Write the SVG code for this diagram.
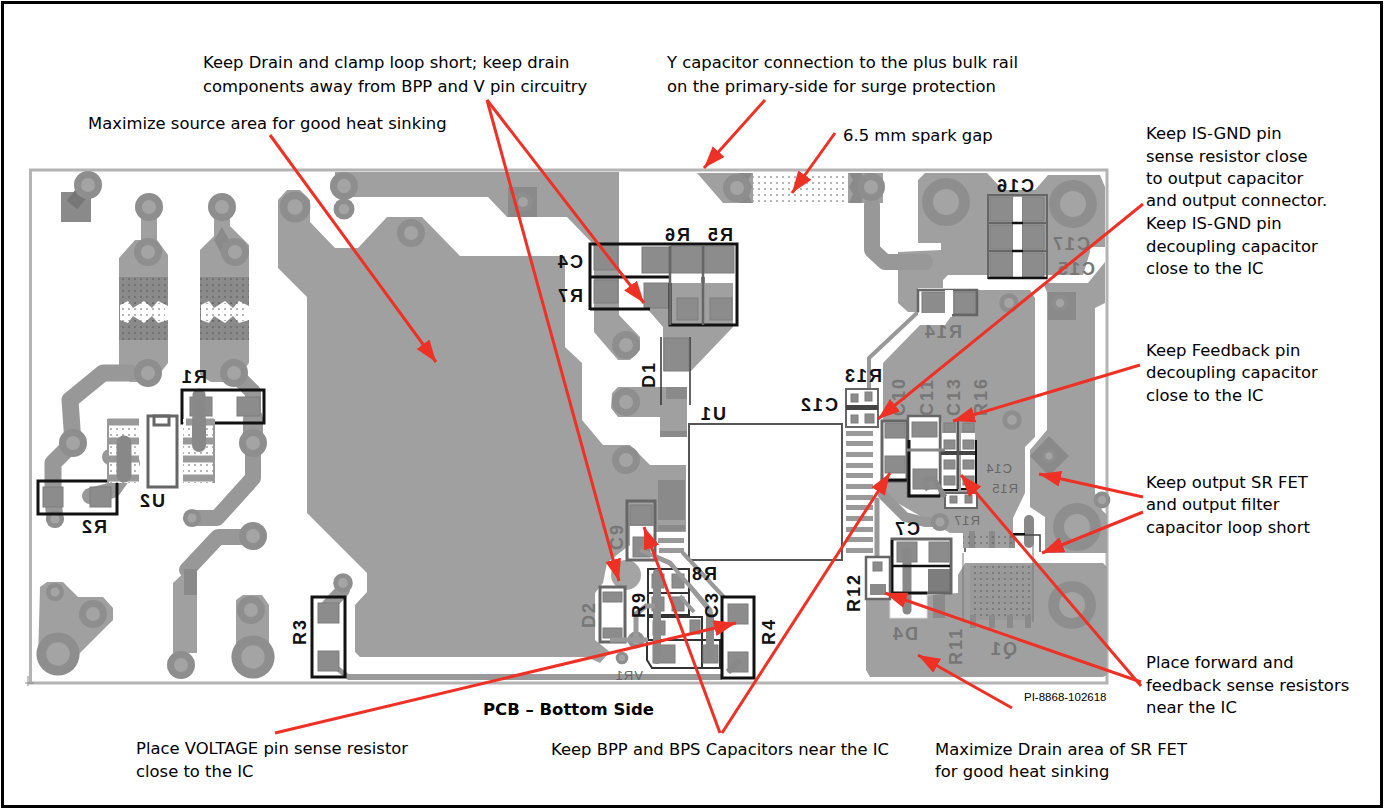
<svg xmlns="http://www.w3.org/2000/svg" width="1384" height="809" viewBox="0 0 1384 809">
<style>
.cu{fill:#a0a0a0}
.dk{fill:#8a8a8a}
.pad{fill:#8c8c8c;stroke:#7d7d7d;stroke-width:1}
.tr{fill:none;stroke:#989898;stroke-linecap:round;stroke-linejoin:round}
.ring{fill:#8e8e8e}
.hole{fill:#a4a4a4}
.wh{fill:#fff}
.box{fill:none;stroke:#111;stroke-width:3}
.gbox{fill:none;stroke:#666;stroke-width:3}
.sil{font-family:"Liberation Sans",Arial,sans-serif;font-weight:700;font-size:18px;letter-spacing:2px;fill:#111}
.sg{fill:#777}
.sm{font-size:13px;font-weight:400;letter-spacing:1px;fill:#666}
.note{font-family:"DejaVu Sans",sans-serif;font-size:16.400px;fill:#000}
.arr{fill:none;stroke:#ef3024;stroke-width:3;marker-end:url(#ah)}
</style>
<defs>
<marker id="ah" markerUnits="userSpaceOnUse" markerWidth="24" markerHeight="18" refX="22" refY="8" orient="auto">
<path d="M0,0 L22,8 L0,16 Z" fill="#ef3024"/>
</marker>
<pattern id="dots" width="6" height="6" patternUnits="userSpaceOnUse">
<circle cx="3" cy="3" r="0.8" fill="#555"/>
</pattern>
<g id="v"><circle r="14" class="ring"/><circle r="7" class="hole"/></g>
<g id="vb"><circle r="24" class="ring"/><circle r="13" class="hole"/></g>
</defs>
<rect width="1384" height="809" fill="#fff"/>
<rect x="2.5" y="2.5" width="1379" height="804" fill="none" stroke="#000" stroke-width="3"/>
<g id="board">
<rect x="30.5" y="170" width="1076.500" height="513" fill="#fff" stroke="#b4b4b4" stroke-width="3"/>
<path d="M28 676V686M25 683H34" stroke="#888" stroke-width="1" fill="none"/>
<g id="copper">
<path class="cu" d="M278,200 287,190 300,190 310,200 310,222 335,248 358,248 387,217 422,217 460,256 565,256 565,347 582,363 582,420 603,445 630,445 650,465 686,465 686,532 655,532 627,547 607,563 603,583 595,593 595,640 610,652 600,663 587,657 360,657 355,652 355,605 367,592 367,573 307,513 307,297 278,268Z"/>
<path class="cu" d="M335,172H619V315L640,337V350L630,360H618L594,332V245L567,217H507L488,197H353L335,190Z"/>
<rect class="dk" x="508" y="187" width="29" height="30"/>
<rect x="348" y="674" width="374" height="6" fill="#999"/>
<path class="cu" d="M697,173H753V203H723Z"/>
<path class="cu" d="M848,173H883V203H848Z"/>
<path d="M753,173H848V203H753Z" fill="url(#dots)"/>
<path class="dk" d="M739,173H752L748,180 752,187 748,194 752,203H739Z"/>
<path class="dk" d="M862,173H849L853,180 849,187 853,194 849,203H862Z"/>
<path class="cu" d="M918,180 925,173H987L1003,190H1035L1048,175H1100L1105,187V247H1090V252L1083,275H948L943,280V288H918V312H908L898,303V252L941,250V243H918Z"/>
<path class="cu" d="M952,290H1030L1035,298V437L1025,447V493L1013,518V548H963V533H950L880,493 883,420V363L920,325H945L952,315Z"/>
<path class="cu" d="M1043,283H1088L1105,262V303L1095,308V493L1102,510 1107,515V553H1045V517L1030,507V450L1047,430V292Z"/>
<path class="cu" d="M965,563H1103L1107,567V675L1103,677H870L866,670V597H905L958,593 958,575Z"/>
<path class="dk" d="M1049,436 1069,456 1049,476 1030,456Z"/>
<rect class="dk" x="1048" y="292" width="28" height="28"/>
<rect x="970" y="565" width="63" height="55" fill="#999"/>
<rect x="970" y="565" width="63" height="55" fill="url(#dots)"/>
<path d="M1033,535V622M963,553V622" stroke="#777" fill="none"/>
<path class="cu" d="M612,393 618,387H687V437H660V417H618L611,408Z"/>
<rect class="dk" x="666" y="387" width="21" height="12"/>
<rect class="dk" x="660" y="431" width="27" height="6"/>
<path class="cu" d="M644,283H733V327L691,371H663V327L644,305Z"/>
<path class="dk" d="M658,480H685V520H658Z"/>
<rect class="dk" x="658" y="525" width="27" height="6"/>
</g>
<g id="fuses">
<path class="cu" d="M141,207H157V240L168,255V363L153,382H130L119,367V258L135,240H141Z"/>
<path class="cu" d="M214,207H230V226L249,245V363L234,382H211L200,375V250L214,236Z"/>
<rect class="dk" x="119" y="277" width="49" height="63"/><rect fill="url(#dots)" x="119" y="277" width="49" height="63"/>
<rect class="dk" x="200" y="277" width="49" height="63"/><rect fill="url(#dots)" x="200" y="277" width="49" height="63"/>
<path class="wh" d="M120,305 128,301 133,308 144,301 152,308 158,301 168,306V320L158,323 152,316 144,323 133,316 128,323 120,320Z"/>
<path class="wh" d="M201,305 209,301 214,308 225,301 233,308 239,301 249,306V320L239,323 233,316 225,323 214,316 209,323 201,320Z"/>
<rect fill="url(#dots)" x="122" y="303" width="43" height="18"/>
<rect fill="url(#dots)" x="203" y="303" width="43" height="18"/>
<path class="dk" d="M222,227 232,245 222,255 214,240Z"/>
</g>
<g id="traces">
<path class="tr" stroke-width="17" d="M130,373H103L70,400 73,443 53,463V500L55,519"/>
<path class="tr" stroke-width="16" d="M234,373 253,392V478L217,518H192"/>
<path class="tr" stroke-width="20" d="M253,443V418"/>
<path class="tr" stroke-width="16" d="M252,537H218L187,570"/>
<path class="cu" d="M173,583 187,570 197,575V653H173Z"/>
<path class="dk" d="M184,569H197V595H184Z"/>
<path class="tr" stroke-width="14" d="M343,590 328,606"/>
<path class="tr" stroke-width="5" d="M332,664 348,677"/>
<path class="tr" stroke-width="16" d="M872,205V250L885,262H925"/>
<path class="tr" stroke-width="4" d="M869,390V358L917,313"/>
<path class="tr" stroke-width="16" d="M110,457H120L132,463 113,490 90,496"/>
<path class="tr" stroke-width="10" d="M883,495 905,517 925,522H940"/>
<path class="tr" stroke-width="5" d="M640,550 670,563 693,590 710,610"/>
<path class="tr" stroke-width="4" d="M683,553 733,607"/>
<path class="tr" stroke-width="5" d="M877,500V565"/>
</g>
<g id="terminals">
<path class="dk" d="M61,192H91V222H61Z"/>
<path d="M88,185 72,205" stroke="#777" stroke-width="14" fill="none"/>
<use href="#v" x="88" y="185"/>
<use href="#v" x="149" y="207"/><use href="#v" x="222" y="207"/>
<use href="#v" x="148" y="252"/><use href="#v" x="235" y="252"/>
<use href="#v" x="148" y="373"/><use href="#v" x="234" y="373"/>
<use href="#v" x="73" y="443"/><use href="#v" x="253" y="443"/>
<use href="#v" x="344" y="186"/><use href="#v" transform="translate(344 209) scale(.75)"/>
<use href="#v" transform="translate(295 207) scale(1.1)"/>
<use href="#v" x="411" y="233"/><use href="#v" transform="translate(523 202) scale(.7)"/>
<use href="#v" x="626" y="345"/><use href="#v" x="626" y="402"/><use href="#v" x="626" y="460"/>
<use href="#v" x="871" y="187"/>
<use href="#v" x="737" y="188"/>
<use href="#v" transform="translate(55 519) scale(.65)"/>
<use href="#v" transform="translate(192 518) scale(.65)"/>
<use href="#v" transform="translate(343 583) scale(.7)"/>
<use href="#v" transform="translate(1060 303) scale(.6)"/>
<use href="#v" transform="translate(1009 303) scale(.7)"/>
<use href="#v" transform="translate(1049 456) scale(.5)"/>
<use href="#v" transform="translate(1012 420) scale(.7)"/>
<use href="#v" transform="translate(1102 500) scale(.6)"/>
<use href="#v" transform="translate(940 522) scale(.65)"/>
<circle cx="626" cy="575" r="15" fill="#a4a4a4"/>
<use href="#v" transform="translate(636 640) scale(.6)"/>
<use href="#v" transform="translate(622 658) scale(.45)"/>
<path class="cu" d="M40,587 47,582H63L78,597H103L113,608V620L60,673H50L38,660Z"/>
<use href="#v" transform="translate(55 592) scale(.65)"/>
<use href="#v" x="93" y="614"/>
<use href="#vb" transform="translate(58 654) scale(.9)"/>
<path class="cu" d="M236,600 243,595H262L269,605V660H236Z"/>
<use href="#v" x="251" y="610"/>
<use href="#vb" transform="translate(253 657) scale(.9)"/>
<use href="#v" x="181" y="665"/>
<use href="#v" x="253" y="536"/>
<use href="#vb" x="946" y="202"/>
<use href="#vb" x="1073" y="204"/>
<use href="#vb" x="1077" y="527"/>
<use href="#vb" x="1072" y="605"/>
</g>
<g id="U1-part">
<rect x="689" y="424" width="153" height="136" fill="#fff" stroke="#555" stroke-width="2"/>
<g fill="#999">
<rect x="846" y="431" width="27" height="5"/><rect x="846" y="441" width="27" height="5"/><rect x="846" y="452" width="27" height="5"/><rect x="846" y="463" width="27" height="5"/><rect x="846" y="473" width="27" height="5"/><rect x="846" y="484" width="27" height="5"/><rect x="846" y="495" width="27" height="5"/><rect x="846" y="505" width="27" height="5"/><rect x="846" y="516" width="27" height="5"/><rect x="846" y="527" width="27" height="5"/><rect x="846" y="537" width="27" height="5"/><rect x="846" y="548" width="27" height="5"/>
<rect x="658" y="538" width="26" height="5"/><rect x="659" y="548" width="25" height="5"/>
</g>
</g>
<g id="D1">
<path d="M661,337V405M690,337V405" stroke="#333" stroke-width="1.500" fill="none"/>
<rect class="pad" x="664" y="338" width="25" height="33"/>
</g>
<g id="R5R6C4R7">
<rect class="pad" x="594" y="245" width="24" height="25"/><rect class="pad" x="594" y="280" width="24" height="23"/>
<rect class="pad" x="642" y="247" width="27" height="26"/><rect class="pad" x="644" y="283" width="25" height="25"/>
<rect class="pad" x="671" y="246" width="32" height="27"/><rect class="pad" x="704" y="246" width="30" height="27"/>
<rect class="pad" x="677" y="298" width="21" height="22"/><rect class="pad" x="710" y="298" width="22" height="22"/>
<path class="box" d="M618,244H737V325H670V283M590,310V244H618M590,277H670M590,309H650M703,277V283"/>
<path d="M670,246V325M703,246V325" stroke="#666" stroke-width="2.500" fill="none"/>
</g>
<g id="R1R2U2">
<rect class="pad" x="43" y="487" width="20" height="20"/><rect class="pad" x="90" y="487" width="21" height="20"/>
<rect class="pad" x="190" y="397" width="22" height="19"/><rect class="pad" x="237" y="397" width="23" height="19"/>
<path d="M199,395V445" stroke="#888" stroke-width="13" stroke-linecap="round"/>
<rect class="box" x="38" y="481" width="79" height="33"/>
<rect class="box" x="182" y="390" width="82" height="33"/>
<rect x="108" y="419" width="31" height="64" fill="#fff"/><rect x="183" y="419" width="31" height="64" fill="#fff"/>
<rect fill="url(#dots)" x="108" y="419" width="31" height="64"/><rect fill="url(#dots)" x="183" y="419" width="31" height="64"/>
<path d="M108,422H139M108,441H139M108,459H139M108,478H139M186,422H214M183,441H214M183,459H214M183,478H214" stroke="#999" stroke-width="7" fill="none"/>
<path d="M108,419V483M214,419V483" stroke="#999" stroke-width="2" fill="none"/>
<path d="M124,443V475" stroke="#888" stroke-width="15" stroke-linecap="round"/>
<path d="M199,420V445" stroke="#888" stroke-width="14" stroke-linecap="round"/>
<rect class="gbox" x="148" y="416" width="29" height="71" stroke-width="2"/>
<rect class="gbox" x="154" y="416" width="15" height="9" stroke-width="2"/>
<rect class="box" x="312" y="597" width="33" height="80"/>
<rect class="pad" x="318" y="603" width="21" height="20"/><rect class="pad" x="318" y="651" width="21" height="20"/>
</g>
<g id="C16-block">
<rect class="pad" x="990" y="197" width="23" height="24"/><rect class="pad" x="1022" y="197" width="22" height="24"/>
<rect class="pad" x="990" y="225" width="23" height="24"/><rect class="pad" x="1022" y="225" width="22" height="24"/>
<rect class="pad" x="990" y="253" width="23" height="24"/><rect class="pad" x="1022" y="253" width="22" height="24"/>
<rect x="1013" y="197" width="9" height="80" fill="#fff"/>
<path d="M988,195H1047V278H988ZM988,223H1047M988,251H1047" fill="none" stroke="#666" stroke-width="2"/>
<path d="M1012,223H1023M1012,251H1023M988,278H1047" stroke="#111" stroke-width="2.500" fill="none"/>
<rect x="922" y="292" width="24" height="24" class="pad"/><rect x="954" y="292" width="22" height="22" class="pad"/>
<path d="M918,312V290H945M945,315H918M952,315H977V290H945" fill="none" stroke="#666" stroke-width="2.500"/>
<rect x="918" y="313" width="34" height="4" fill="#fff"/>
<rect x="945" y="290" width="8" height="24" fill="#fff"/>
</g>
<g id="C12R13C10C11C13R16">
<rect x="846" y="389" width="32" height="38" fill="#fff" stroke="#666" stroke-width="2"/>
<rect x="846" y="405" width="32" height="5" fill="#444"/>
<rect class="pad" x="851" y="394" width="7" height="8"/><rect class="pad" x="865" y="392" width="7" height="9"/>
<rect class="pad" x="851" y="415" width="7" height="8"/><rect class="pad" x="865" y="414" width="9" height="9"/>
<rect x="883" y="421" width="24" height="60" fill="#fff"/>
<rect class="pad" x="885" y="423" width="20" height="15"/><rect class="pad" x="885" y="456" width="20" height="17"/>
<rect class="gbox" x="882" y="421" width="25" height="60" stroke-width="2"/>
<path d="M883,480H907" stroke="#111" stroke-width="3"/>
<rect x="909" y="416" width="31" height="80" fill="#fff"/>
<rect class="pad" x="912" y="422" width="25" height="15"/><rect class="pad" x="913" y="469" width="24" height="20"/>
<path d="M908,416H940V496H908Z" fill="none" stroke="#666" stroke-width="2.500"/>
<path d="M909,440V496H940" fill="none" stroke="#111" stroke-width="3"/>
<rect x="941" y="421" width="36" height="68" fill="#a0a0a0"/>
<rect x="942" y="433" width="14" height="56" fill="#fff"/><rect x="961" y="433" width="14" height="56" fill="#fff"/>
<rect class="pad" x="944" y="423" width="11" height="9"/><rect class="pad" x="963" y="423" width="11" height="9"/>
<rect class="pad" x="944" y="440" width="11" height="9"/><rect class="pad" x="963" y="440" width="11" height="9"/>
<rect class="pad" x="944" y="460" width="11" height="9"/><rect class="pad" x="963" y="460" width="11" height="9"/>
<rect class="pad" x="944" y="476" width="11" height="9"/><rect class="pad" x="963" y="476" width="11" height="9"/>
<path d="M941,453H977" stroke="#444" stroke-width="4"/>
<path d="M958,421V489" stroke="#555" stroke-width="2"/>
<path d="M961,489H976V440M942,490H958" fill="none" stroke="#111" stroke-width="2"/>
<rect x="945" y="493" width="32" height="15" fill="#fff" stroke="#666" stroke-width="2"/>
<rect class="pad" x="950" y="496" width="7" height="7"/><rect class="pad" x="965" y="495" width="7" height="8"/>
<path d="M907,450H945" stroke="#888" stroke-width="3"/>
<path d="M928,490 924,483Q926,477 934,479L945,497" fill="none" stroke="#888" stroke-width="5"/>
</g>
<g id="C7R12D4">
<rect x="892" y="540" width="60" height="53" fill="#fff"/>
<rect class="pad" x="929" y="542" width="20" height="20"/><rect x="928" y="569" width="22" height="23" fill="#7d7d7d"/>
<rect class="pad" x="897" y="542" width="20" height="20"/>
<rect x="890" y="594" width="37" height="24" fill="#fff" stroke="#ddd"/>
<rect class="dk" x="933" y="595" width="12" height="23"/>
<path d="M907,552V610" stroke="#888" stroke-width="9" stroke-linecap="round"/>
<rect class="gbox" x="892" y="539" width="59" height="54" stroke-width="2.500"/>
<path d="M893,566H950M893,593H927M892,540V594" stroke="#111" stroke-width="2.500" fill="none"/>
<rect x="866" y="557" width="24" height="42" fill="#fff" stroke="#666" stroke-width="2.500"/>
<rect class="dk" x="870" y="584" width="16" height="11"/>
<rect class="pad" x="873" y="562" width="9" height="9"/>
<path d="M1029,520V543" stroke="#888" stroke-width="10" stroke-linecap="round"/>
<path d="M972,531V548M992,531V548M1012,535V548M973,615V628M992,615V628M1010,615V628M1028,615V628" stroke="#8a8a8a" stroke-width="6" fill="none"/>
<rect x="963" y="535" width="50" height="13" fill="url(#dots)"/>
<path d="M965,548V552M1013,535H1040V552" stroke="#444" stroke-width="1.500" fill="none"/>
<path d="M1013,534H1025" stroke="#111" stroke-width="2"/>
</g>
<g id="bottom-cluster">
<rect x="630" y="526" width="25" height="34" fill="#fff"/>
<rect class="pad" x="630" y="505" width="22" height="20"/>
<rect class="pad" x="633" y="537" width="17" height="20"/>
<rect class="gbox" x="627" y="501" width="28" height="59" stroke-width="2"/>
<rect x="601" y="588" width="23" height="53" fill="#fff"/>
<rect class="gbox" x="600" y="587" width="25" height="55" stroke-width="2"/>
<rect class="pad" x="603" y="592" width="19" height="10"/><rect class="pad" x="603" y="628" width="19" height="10"/>
<path d="M648,569H689V593H648ZM648,593H689V615H648ZM648,617H702V640H648ZM647,640H720V668H652L647,660ZM702,617V668" fill="#fff" stroke="#333" stroke-width="2"/>
<rect class="pad" x="652" y="574" width="12" height="14"/><rect class="pad" x="672" y="574" width="12" height="14"/>
<rect class="pad" x="652" y="597" width="12" height="14"/><rect class="pad" x="672" y="597" width="12" height="14"/>
<rect class="pad" x="653" y="621" width="12" height="14"/><rect class="pad" x="690" y="620" width="10" height="14"/>
<rect class="pad" x="653" y="645" width="22" height="18"/><rect class="pad" x="703" y="645" width="15" height="18"/>
<path d="M657,573V660M710,617V657" stroke="#8a8a8a" stroke-width="8" stroke-linecap="round" fill="none"/>
<path d="M640,550 670,563 693,590 712,614M680,596 694,612M683,553 733,607" stroke="#999" stroke-width="4" fill="none"/>
<path d="M636,640V614L646,606H655" stroke="#999" stroke-width="5" fill="none"/>
<path d="M648,640H610" stroke="#999" stroke-width="5" fill="none"/>
<rect x="722" y="597" width="32" height="81" fill="#fff"/>
<rect class="pad" x="728" y="604" width="20" height="20"/><rect class="pad" x="728" y="652" width="20" height="20"/>
<rect class="box" x="722" y="597" width="32" height="81"/>
<path d="M728,672 740,660" stroke="#888" stroke-width="6"/>
</g>
<g id="silk">
<text class="sil" transform="translate(207,383) scale(-1,1)">R1</text>
<text class="sil" transform="translate(107,533) scale(-1,1)">R2</text>
<text class="sil" transform="translate(165,507) scale(-1,1)">U2</text>
<text class="sil" transform="translate(306,645) rotate(-90)">R3</text>
<text class="sil" transform="translate(775,645) rotate(-90)">R4</text>
<text class="sil" transform="translate(733,241) scale(-1,1)">R5</text>
<text class="sil" transform="translate(690,241) scale(-1,1)">R6</text>
<text class="sil" transform="translate(583,268) scale(-1,1)">C4</text>
<text class="sil" transform="translate(583,302) scale(-1,1)">R7</text>
<text class="sil" transform="translate(655,388) rotate(-90)">D1</text>
<text class="sil" transform="translate(726,420) scale(-1,1)">U1</text>
<text class="sil" transform="translate(838,411) scale(-1,1)">C12</text>
<text class="sil" transform="translate(882,382) scale(-1,1)">R13</text>
<text class="sil" transform="translate(1034,192) scale(-1,1)">C16</text>
<text class="sil" transform="translate(860,612) rotate(-90)">R12</text>
<text class="sil" transform="translate(920,535) scale(-1,1)">C7</text>
<text class="sil" transform="translate(717,580) scale(-1,1)">R8</text>
<text class="sil" transform="translate(645,618) rotate(-90)">R9</text>
<text class="sil" transform="translate(718,618) rotate(-90)">C3</text>
<text class="sil sg" transform="translate(1090,250) scale(-1,1)">C17</text>
<text class="sil sg" transform="translate(1095,275) scale(-1,1)">C15</text>
<text class="sil sg" transform="translate(962,338) scale(-1,1)">R14</text>
<text class="sil sg" transform="translate(905,416) rotate(-90)">C10</text>
<text class="sil sg" transform="translate(933,416) rotate(-90)">C11</text>
<text class="sil sg" transform="translate(960,416) rotate(-90)">C13</text>
<text class="sil sg" transform="translate(987,416) rotate(-90)">R16</text>
<text class="sil sg" transform="translate(918,640) scale(-1,1)">D4</text>
<text class="sil sg" transform="translate(962,665) rotate(-90)">R11</text>
<text class="sil sg" transform="translate(1017,655) scale(-1,1)">Q1</text>
<text class="sil sg" transform="translate(595,628) rotate(-90)">D2</text>
<text class="sil sg" transform="translate(623,550) rotate(-90)">C9</text>
<text class="sil sm" transform="translate(1012,473) scale(-1,1)">C14</text>
<text class="sil sm" transform="translate(1018,493) scale(-1,1)">R15</text>
<text class="sil sm" transform="translate(980,525) scale(-1,1)">R17</text>
<text class="sil sm" transform="translate(643,680) scale(-1,1)">VR1</text>
</g>
</g>
<g id="connectors">
<path class="arr" d="M270,135 436,362"/>
<path class="arr" d="M487,100 619,581"/>
<path class="arr" d="M487,100 644,303"/>
<path class="arr" d="M765,100 704,168"/>
<path class="arr" d="M835,133 792,193"/>
<path class="arr" d="M1143,204 878,419"/>
<path class="arr" d="M1140,365 953,421"/>
<path class="arr" d="M1143,497 1039,474"/>
<path class="arr" d="M1143,512 1042,553"/>
<path class="arr" d="M1141,682 885,593"/>
<path class="arr" d="M1141,686 961,475"/>
<path class="arr" d="M275,733 736,623"/>
<path class="arr" d="M720,733 644,527"/>
<path class="arr" d="M722,733 890,473"/>
<path class="arr" d="M1012,708 918,655"/>
</g>
<g id="labels">
<text class="note" x="203" y="68">Keep Drain and clamp loop short; keep drain</text>
<text class="note" x="203" y="92">components away from BPP and V pin circuitry</text>
<text class="note" x="667" y="68">Y capacitor connection to the plus bulk rail</text>
<text class="note" x="667" y="92">on the primary-side for surge protection</text>
<text class="note" x="88" y="129">Maximize source area for good heat sinking</text>
<text class="note" x="843" y="141">6.5 mm spark gap</text>
<text class="note" x="1146" y="139">Keep IS-GND pin</text>
<text class="note" x="1146" y="162">sense resistor close</text>
<text class="note" x="1146" y="184">to output capacitor</text>
<text class="note" x="1146" y="206">and output connector.</text>
<text class="note" x="1146" y="229">Keep IS-GND pin</text>
<text class="note" x="1146" y="252">decoupling capacitor</text>
<text class="note" x="1146" y="274">close to the IC</text>
<text class="note" x="1146" y="356">Keep Feedback pin</text>
<text class="note" x="1146" y="378">decoupling capacitor</text>
<text class="note" x="1146" y="401">close to the IC</text>
<text class="note" x="1146" y="488">Keep output SR FET</text>
<text class="note" x="1146" y="510">and output filter</text>
<text class="note" x="1146" y="533">capacitor loop short</text>
<text class="note" x="1146" y="668">Place forward and</text>
<text class="note" x="1146" y="691">feedback sense resistors</text>
<text class="note" x="1146" y="713">near the IC</text>
<text class="note" x="483" y="715" font-weight="700" style="font-size:16.500px">PCB – Bottom Side</text>
<text x="1024" y="701" style="font-family:'Liberation Sans',sans-serif;font-size:11.500px;fill:#000">PI-8868-102618</text>
<text class="note" x="136" y="754">Place VOLTAGE pin sense resistor</text>
<text class="note" x="136" y="777">close to the IC</text>
<text class="note" x="551" y="755">Keep BPP and BPS Capacitors near the IC</text>
<text class="note" x="935" y="755">Maximize Drain area of SR FET</text>
<text class="note" x="935" y="777">for good heat sinking</text>
</g>
</svg>
